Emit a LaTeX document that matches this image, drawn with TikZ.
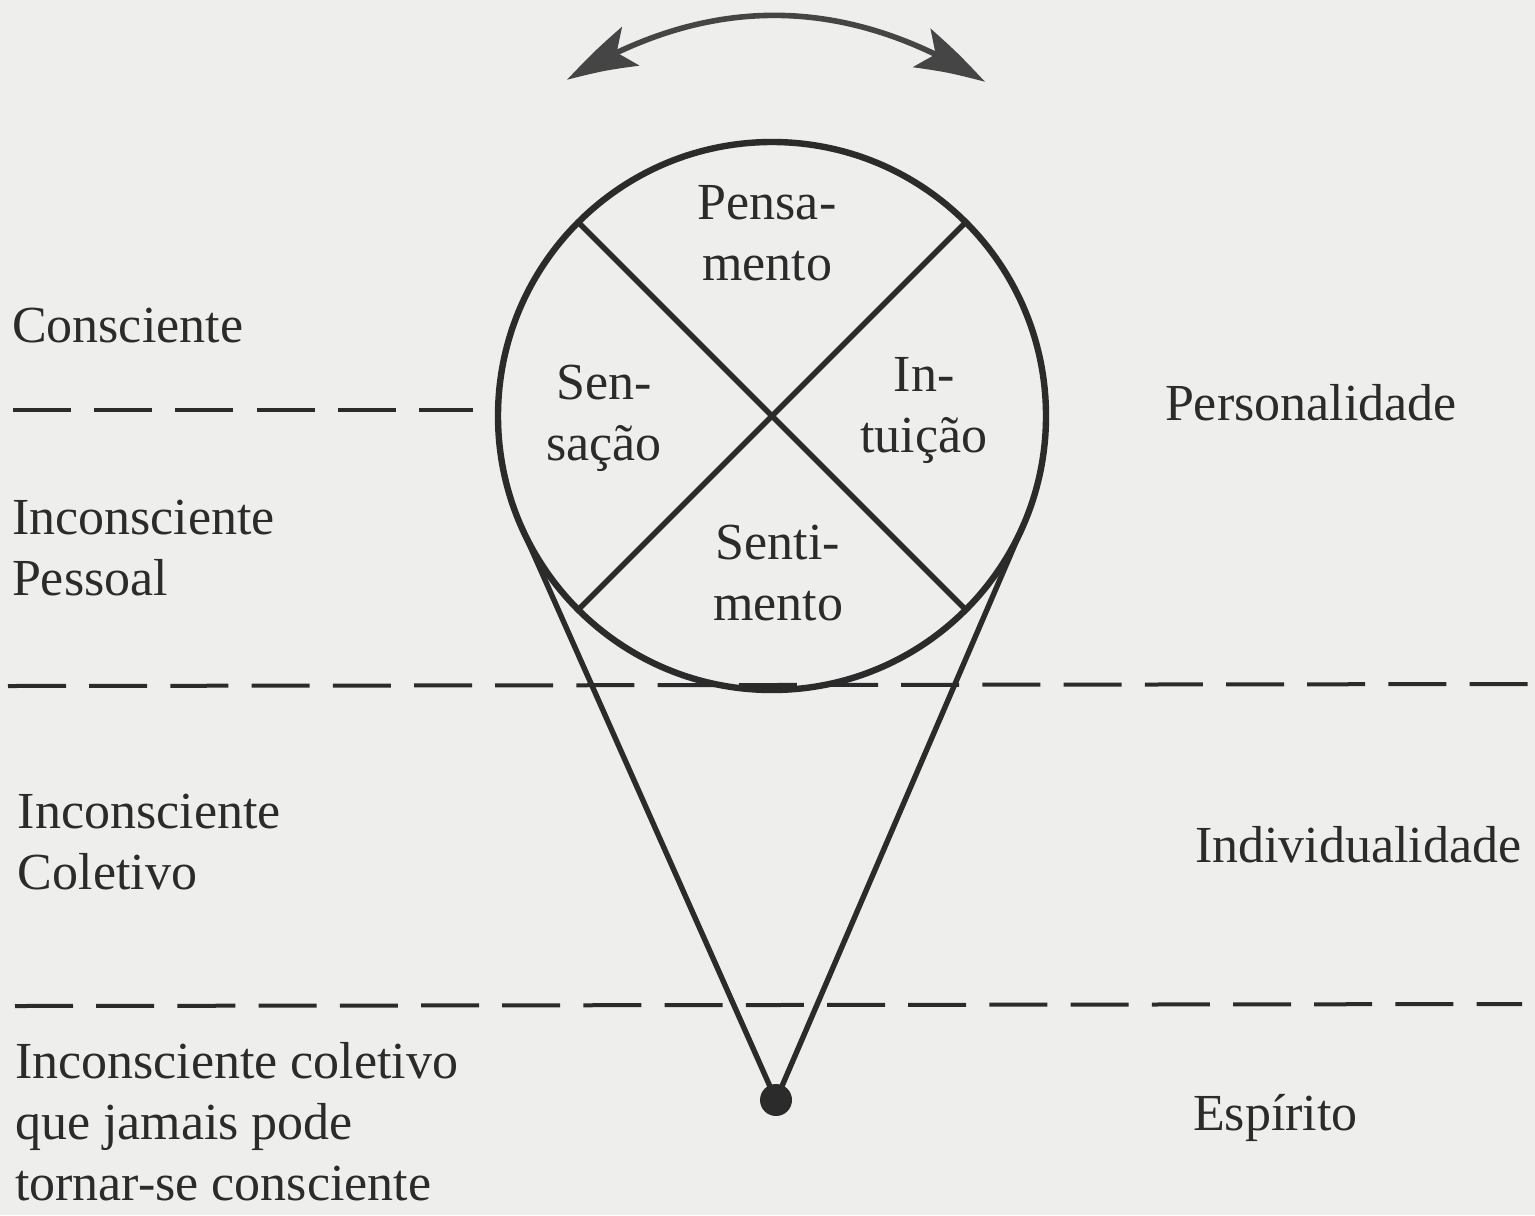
\documentclass[tikz,border=0pt]{standalone}
\usepackage{fontspec}
\setmainfont{Liberation Serif}
\usetikzlibrary{arrows.meta,calc,bending}
\definecolor{paper}{HTML}{EEEEEC}
\definecolor{ink}{HTML}{2B2B2B}
\definecolor{arrowink}{HTML}{454545}
\begin{document}
\begin{tikzpicture}[x=0.5pt,y=-0.5pt,
  lbl/.style={inner sep=0pt,outer sep=0pt,text=ink,font=\fontsize{26}{30.5}\selectfont},
  leftlbl/.style={lbl,align=left,anchor=base west},
  sector/.style={lbl,align=center,anchor=base},
  layer/.style={line width=2pt,draw=ink,dash pattern=on 29pt off 11.6pt},
  edge/.style={line width=2.7pt,draw=ink},
  ring/.style={circle,draw=ink,line width=3.2pt,minimum size=274pt,inner sep=0pt,outer sep=0pt},
  apex/.style={circle,fill=ink,minimum size=16pt,inner sep=0pt,outer sep=0pt},
  swing/.style={line width=2.8pt,draw=arrowink,
    {Stealth[length=37pt,width=21pt,inset=8pt,bend]}-{Stealth[length=37pt,width=21pt,inset=8pt,bend]}},
]
\fill[paper] (0,0) rectangle (1535,1215);
\useasboundingbox (0,0) rectangle (1535,1215);

% layer separators
\coordinate (s1a) at (13,410);  \coordinate (s1b) at (473,410);
\coordinate (s2a) at (8,686);   \coordinate (s2b) at (1530,684);
\coordinate (s3a) at (15,1006); \coordinate (s3b) at (1522,1004);
\draw[layer] (s1a) -- (s1b);
\draw[layer] (s2a) -- (s2b);
\draw[layer] (s3a) -- (s3b);

% circle and apex
\node[ring] (circ) at (772,416) {};
\node[apex] (dot) at (776,1100) {};
\draw[edge] (circ.135) -- (circ.-45);
\draw[edge] (circ.45) -- (circ.-135);
\draw[edge] (dot.center) -- (tangent cs:node=circ,point={(dot.center)},solution=1);
\draw[edge] (dot.center) -- (tangent cs:node=circ,point={(dot.center)},solution=2);

% double arrow
\coordinate (al) at (567,80);
\coordinate (ar) at (985,82);
\draw[swing] (al) .. controls (706,-7) and (846,-6) .. (ar);

% sector labels (anchored at the baseline of the last line)
\node[sector] (pens) at (767,280) {Pensa-\\mento};
\node[sector] (sens) at (604,460) {Sen-\\sação};
\node[sector] (intu) at (924,452) {In-\\tuição};
\node[sector] (sent) at (778,620) {Senti-\\mento};

% left labels
\node[leftlbl] (cons) at (12,342) {Consciente};
\node[leftlbl] (icp) at (12,595) {Inconsciente\\Pessoal};
\node[leftlbl] (icc) at (18,889) {Inconsciente\\Coletivo};
\node[leftlbl] (icn) at (15,1200) {Inconsciente coletivo\\que jamais pode\\tornar-se consciente};

% right labels
\node[leftlbl] (pers) at (1165,420) {Personalidade};
\node[leftlbl] (indi) at (1195,862) {Individualidade};
\node[leftlbl] (espi) at (1193,1130) {Espírito};
\end{tikzpicture}
\end{document}
